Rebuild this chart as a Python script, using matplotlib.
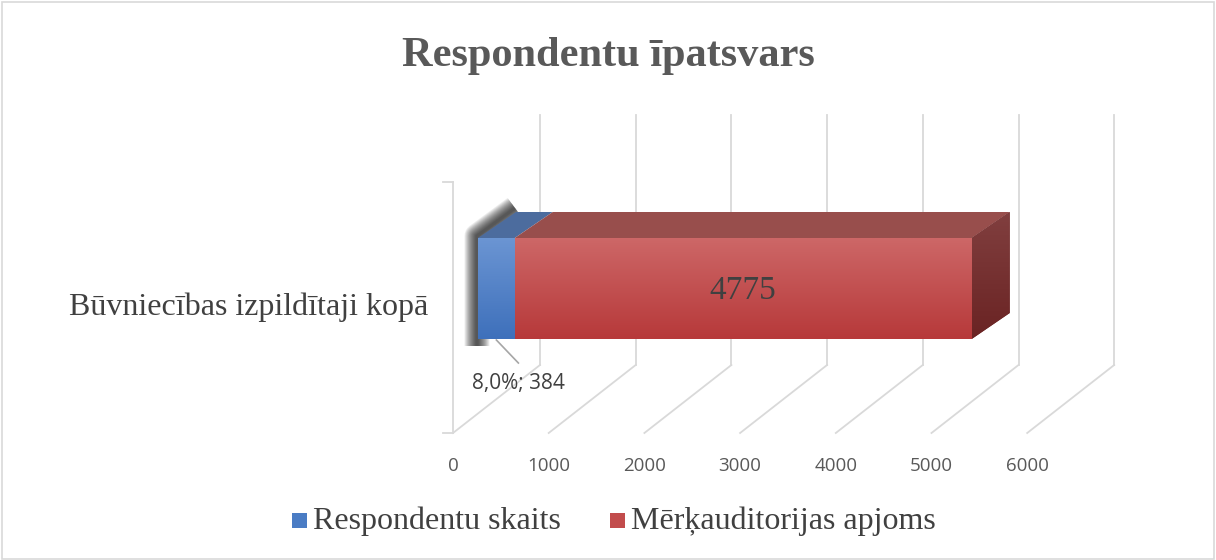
import numpy as np
import matplotlib.pyplot as plt
from matplotlib.patches import Polygon, Rectangle
from matplotlib.colors import LinearSegmentedColormap

title = "Respondentu īpatsvars"
category = "Būvniecības izpildītaji kopā"
series_names = ["Respondentu skaits", "Mērķauditorijas apjoms"]
values = [384, 4775]
point_labels = ["8,0%; 384", "4775"]
x_ticks = [0, 1000, 2000, 3000, 4000, 5000, 6000]

# colours: (top of front face, bottom of front face, top face, side top, side bottom)
front_top = ["#6b95d3", "#cd6767"]
front_bot = ["#3e70bb", "#b7393a"]
legend_c = ["#4a7cc4", "#c24c4c"]
top_face = ["#4c6c9e", "#984e4c"]
side_top = "#813f3f"
side_bot = "#6a2323"

W, H = 1216, 560
px = 0.0957          # pixels per value unit
x0 = 453             # pixel x of value 0 on floor front
floor_y, back_y, wall_top = 433, 365, 115
gdx = 87 / px        # floor depth shift (value units)
shift = 25 / px      # bar front face shift into the box
bdx, bdy = 38 / px, -26
bar_top, bar_bot = 238, 339

fig = plt.figure(figsize=(W / 100, H / 100), dpi=100)
ax = fig.add_axes([0, 0, 1, 1])
ax.set_xlim(-x0 / px, (W - x0) / px)
ax.set_ylim(H, 0)
ax.axis("off")

bg = fig.add_axes([0, 0, 1, 1], zorder=-1)
bg.set_xlim(0, W)
bg.set_ylim(H, 0)
bg.axis("off")
bg.add_patch(Rectangle((1.5, 2), W - 4, H - 3, fill=False, ec="#d9d9d9", lw=1.2))

grid_c = "#d9d9d9"
for t in x_ticks:
    ax.plot([t, t + gdx], [floor_y, back_y], color=grid_c, lw=1.3, zorder=1)
    ax.plot([t + gdx, t + gdx], [back_y, wall_top], color=grid_c, lw=1.3, zorder=1)
    ax.text(t, 466, str(t), ha="center", va="center", fontsize=13.5,
            family="Open Sans", color="#595959")

# category axis
tick_len = 10 / px
ax.plot([0, 0], [182, floor_y], color=grid_c, lw=1.3, zorder=1)
ax.plot([-tick_len, 0], [182, 182], color=grid_c, lw=1.3, zorder=1)
ax.plot([-tick_len, 0], [floor_y, floor_y], color=grid_c, lw=1.3, zorder=1)
ax.text(-tick_len - 15 / px, 307, category, ha="right", va="center", fontsize=23,
        family="Liberation Serif", color="#404040")

# soft shadow on the left of the bar
sx = shift - 1 / px
for lw in np.linspace(18, 2, 14):
    ax.plot([sx, sx, sx + bdx], [346, bar_top - 2, bar_top + bdy - 4],
            color="black", lw=lw, alpha=0.07, solid_capstyle="butt",
            solid_joinstyle="round", zorder=2)

left = 0
for i, v in enumerate(values):
    l, r = left + shift, left + v + shift
    cmap = LinearSegmentedColormap.from_list("g", [front_top[i], front_bot[i]])
    bars = ax.barh((bar_top + bar_bot) / 2, v, left=l, height=bar_bot - bar_top,
                   color=front_bot[i], zorder=3)
    grad = ax.imshow(np.linspace(0, 1, 100).reshape(-1, 1), cmap=cmap, aspect="auto",
                     extent=(l, r, bar_bot, bar_top), zorder=3.5)
    grad.set_clip_path(bars.patches[0])
    ax.add_patch(Polygon([(l, bar_top), (r, bar_top), (r + bdx, bar_top + bdy),
                          (l + bdx, bar_top + bdy)], closed=True, fc=top_face[i],
                         ec="none", zorder=3))
    left += v

# side face of the last segment
r = left + shift
side = Polygon([(r, bar_top), (r + bdx, bar_top + bdy), (r + bdx, bar_bot + bdy),
                (r, bar_bot)], closed=True, fc=side_bot, ec="none", zorder=3)
ax.add_patch(side)
scmap = LinearSegmentedColormap.from_list("s", [side_top, side_bot])
sg = ax.imshow(np.linspace(0, 1, 100).reshape(-1, 1), cmap=scmap, aspect="auto",
               extent=(r, r + bdx, bar_bot, bar_top + bdy), zorder=3.5)
sg.set_clip_path(side)

# data labels
blue_mid = shift + values[0] / 2
ax.plot([blue_mid, blue_mid + 22 / px], [340, 363], color="#a6a6a6", lw=1.2, zorder=4)
ax.text(blue_mid + 22 / px, 383, point_labels[0], ha="center", va="center",
        fontsize=15, family="Open Sans", color="#404040", zorder=5)
ax.text(shift + values[0] + values[1] / 2, 291, point_labels[1], ha="center",
        va="center", fontsize=24, family="Liberation Serif", color="#404040", zorder=5)

bg.text(W / 2, 56, title, ha="center", va="center", fontsize=30.5, fontweight="bold",
        family="Liberation Serif", color="#595959")

# legend
leg = [(292, series_names[0], 0), (610, series_names[1], 1)]
for lx, name, i in leg:
    bg.add_patch(Rectangle((lx, 513), 15, 15, fc=legend_c[i], ec="none"))
    bg.text(lx + 21, 521, name, ha="left", va="center", fontsize=23,
            family="Liberation Serif", color="#404040")

fig.savefig("out.png", dpi=100)
